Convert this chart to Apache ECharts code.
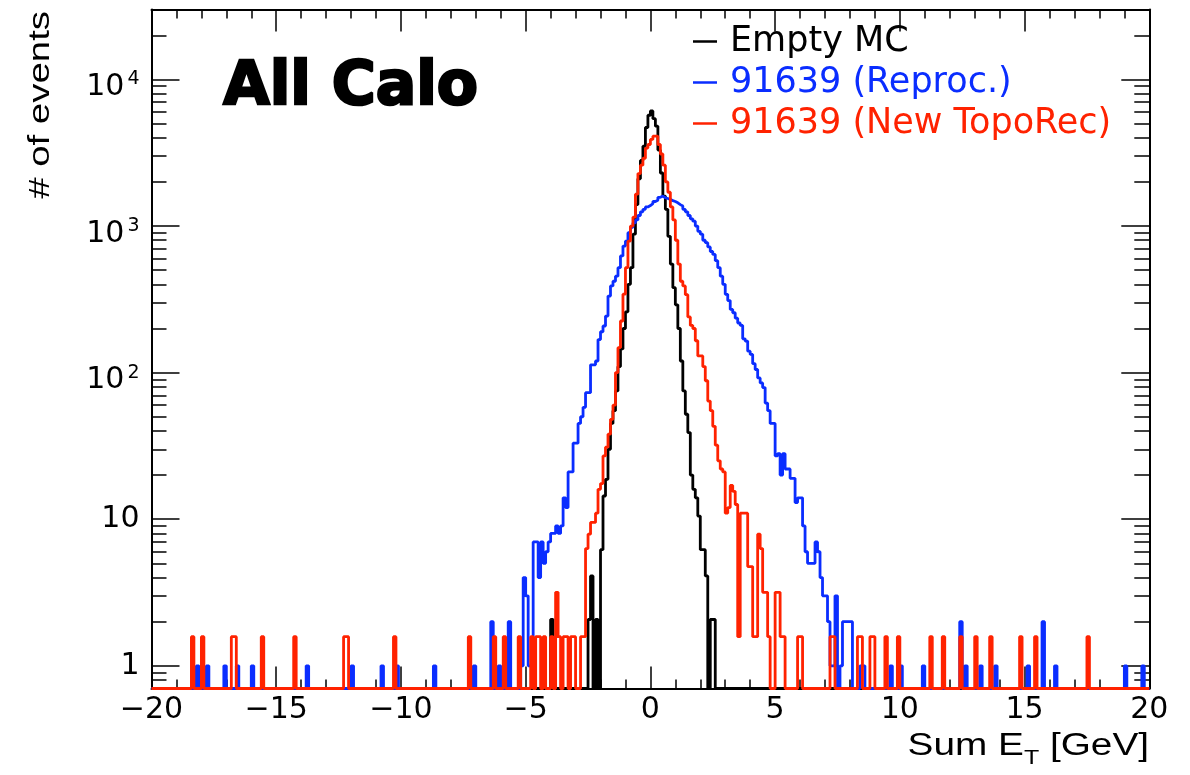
<!DOCTYPE html>
<html>
<head>
<meta charset="utf-8">
<script src="https://cdn.jsdelivr.net/npm/echarts@6/dist/echarts.min.js"></script>
<style>
html, body { margin: 0; padding: 0; background: #ffffff; }
#chartbox { width: 1190px; height: 775px; }
</style>
</head>
<body>
<div id="chartbox"></div>
<script>
// histogram binning: 400 bins of 0.1 GeV from -20 to 20
const binLow = -20;
const binWidth = 0.1;
const binCount = 400;

const names = ["Empty MC", "91639 (Reproc.)", "91639 (New TopoRec)"];
const colors = ["#000000", "#0a2dff", "#ff2200"];

// Empty MC (bin index -> content)
const blackCoreStart = 175;
const blackCore = [2.07, 4.1, 0, 2.07, 0, 6.2, 14.4, 18.7, 30, 45,
    55, 75, 110, 145, 200, 260, 400, 520, 880, 1400,
    2100, 2800, 3500, 4700, 5700, 6100, 5400, 4800, 3300, 2300,
    1600, 1300, 850, 550, 380, 290, 200, 120, 75, 52,
    39, 20, 16, 14, 10.5, 6.2, 6.2, 4.1, 0, 2.07, 2.07];
const blackTailBins = [160];
const blackTailCounts = [2.07];

// 91639 (Reproc.)
const blueCoreStart = 148;
const blueCore = [1, 4, 3, 1, 1, 7, 7, 4, 7, 5,
    6, 7, 8, 8, 9, 8, 9, 14, 12, 21,
    21, 33, 33, 45, 50, 58, 73, 73, 113, 113,
    120, 168, 190, 208, 243, 333, 390, 420, 455, 520,
    625, 730, 790, 900, 980, 1050, 1100, 1180, 1250, 1300,
    1350, 1380, 1420, 1470, 1500, 1570, 1600, 1560, 1540, 1520,
    1490, 1470, 1440, 1400, 1370, 1300, 1250, 1180, 1120, 1080,
    1000, 920, 880, 800, 770, 720, 670, 640, 580, 520,
    455, 400, 342, 310, 270, 256, 235, 218, 210, 170,
    164, 140, 133, 115, 105, 92, 85, 79, 62, 55,
    45, 45, 27, 28, 20, 28, 22, 22, 19, 19,
    13, 14, 14, 9, 6, 5, 5, 5, 7, 6,
    4, 3, 3, 2, 1, 1, 3, 0, 1, 2,
    2, 2, 2, 0, 0, 0, 1, 1];
const blueTailBins = [18, 22, 29, 34, 40, 62, 80, 92, 98, 113, 129, 136, 139, 143,
    296, 300, 309, 324, 326, 332, 338, 351, 357, 362, 390, 397];
const blueTailCounts = [1, 1, 1, 1, 1, 1, 1, 1, 1, 1, 1, 2, 1, 2,
    1, 1, 1, 2, 1, 1, 1, 1, 2, 1, 1, 1];

// 91639 (New TopoRec)
const redCoreStart = 152;
const redCore = [1.58, 0, 1.58, 1.58, 0, 1.58, 0, 0, 1.58, 0,
    3.17, 1.58, 0, 1.58, 1.58, 0, 1.58, 1.58, 0, 0,
    1.58, 1.58, 6.3, 7.9, 9.5, 9.5, 11, 16, 17.5, 27,
    31, 38, 48, 60, 100, 148, 225, 343, 520, 790,
    1000, 1150, 1650, 2280, 2600, 2900, 3400, 3600, 3900, 4100,
    4100, 3600, 3100, 2600, 2000, 1700, 1350, 1100, 800, 550,
    420, 390, 340, 240, 210, 200, 165, 130, 130, 110,
    88, 64, 55, 43, 32, 25, 22, 21, 11, 12,
    17, 15.5, 12.6, 1.58, 11, 11, 11, 4.75, 4.75, 1.58,
    1.58, 7.9, 6.3, 3.17, 3.17, 1.58, 0, 0, 3.17, 3.17,
    1.58, 1.58, 0, 0, 0, 0, 0, 1.58, 1.58];
const redTailBins = [16, 20, 32, 33, 44, 57, 77, 78, 97, 127, 137, 141, 147,
    272, 273, 283, 284, 288, 289, 294, 299, 312, 317, 324, 330, 336, 348, 354, 375];
const redTailCounts = [1.58, 1.58, 1.58, 1.58, 1.58, 1.58, 1.58, 1.58, 1.58, 1.58, 1.58, 1.58, 1.58,
    1.58, 1.58, 1.58, 1.58, 1.58, 1.58, 1.58, 1.58, 1.58, 1.58, 1.58, 1.58, 1.58, 1.58, 1.58, 1.58];

// axes
const xTicks = [-20, -15, -10, -5, 0, 5, 10, 15, 20];
const yMin = 0.7;
const yMax = 30000;
const yMajor = [1, 10, 100, 1000, 10000];
const yMinor = [0.8, 0.9, 2, 3, 4, 5, 6, 7, 8, 9, 20, 30, 40, 50, 60, 70, 80, 90,
    200, 300, 400, 500, 600, 700, 800, 900, 2000, 3000, 4000, 5000, 6000, 7000, 8000, 9000, 20000];

const helv = '"Liberation Sans", Arial, Helvetica, sans-serif';
const wide = '"DejaVu Sans", sans-serif';
const logMin = Math.log10(yMin);
const logMax = Math.log10(yMax);

function fillBins(start, core, tailBins, tailCounts) {
    let counts = new Array(binCount).fill(0);
    core.forEach((c, i) => { counts[start + i] = c; });
    tailBins.forEach((b, i) => { counts[b] = tailCounts[i]; });
    return counts;
}

// step points at the low edge of each bin, empty bins sit on the frame
function toSteps(counts) {
    let pts = counts.map((c, i) => [+(binLow + i * binWidth).toFixed(2), c > 0 ? Math.log10(c) : logMin]);
    pts.push([binLow + binCount * binWidth, pts[pts.length - 1][1]]);
    return pts;
}

const histos = [
    fillBins(blackCoreStart, blackCore, blackTailBins, blackTailCounts),
    fillBins(blueCoreStart, blueCore, blueTailBins, blueTailCounts),
    fillBins(redCoreStart, redCore, redTailBins, redTailCounts)
];

const frameLine = { show: true, onZero: false, lineStyle: { color: "#000", width: 2 } };
const tickLine = { color: "#000", width: 1.5 };

function xAxisDef(position, withLabels) {
    return {
        type: "value",
        position: position,
        min: xTicks[0],
        max: xTicks[xTicks.length - 1],
        interval: 5,
        axisLine: frameLine,
        axisTick: { show: true, inside: true, length: 22, lineStyle: tickLine },
        minorTick: { show: true, splitNumber: 5, length: 9, lineStyle: tickLine },
        splitLine: { show: false },
        minorSplitLine: { show: false },
        axisLabel: withLabels ? {
            show: true,
            margin: 7,
            fontSize: 30,
            fontFamily: wide,
            color: "#000",
            formatter: (v) => (v < 0 ? "\u2212" + Math.abs(v) : String(v))
        } : { show: false }
    };
}

function yAxisDef(position, values, len, withLabels, withLine) {
    return {
        type: "value",
        position: position,
        min: logMin,
        max: logMax,
        axisLine: withLine ? frameLine : { show: false, onZero: false },
        axisTick: { show: true, inside: true, length: len, customValues: values.map(Math.log10), lineStyle: tickLine },
        splitLine: { show: false },
        axisLabel: withLabels ? {
            show: true,
            margin: 12,
            customValues: yMajor.map(Math.log10),
            formatter: (v) => {
                let p = Math.round(v);
                if (p === 0) return "{b|1}";
                if (p === 1) return "{b|10}";
                return "{b|10}{s|" + p + "}";
            },
            rich: {
                b: { fontSize: 30, fontFamily: wide, color: "#000", lineHeight: 30, verticalAlign: "bottom" },
                s: { fontSize: 19, fontFamily: wide, color: "#000", lineHeight: 46, verticalAlign: "middle", padding: [0, 0, 0, 3] }
            }
        } : { show: false }
    };
}

let myChart = echarts.init(document.getElementById("chartbox"));
let option = {
    animation: false,
    backgroundColor: "#ffffff",
    grid: { left: 151.5, top: 9.5, width: 997.8, height: 679, outerBoundsMode: "none" },
    legend: {
        orient: "vertical",
        left: 693,
        top: 24,
        padding: 0,
        itemGap: 6,
        itemWidth: 24,
        itemHeight: 2.5,
        icon: "rect",
        selectedMode: false,
        textStyle: { fontSize: 35, fontFamily: wide, padding: [0, 0, 0, 8] },
        data: names.map((n, i) => ({ name: n, textStyle: { color: colors[i] } }))
    },
    xAxis: [xAxisDef("bottom", true), xAxisDef("top", false)],
    yAxis: [
        yAxisDef("left", yMajor, 28, true, true),
        yAxisDef("left", yMinor, 15, false, false),
        yAxisDef("right", yMajor, 28, false, true),
        yAxisDef("right", yMinor, 15, false, false)
    ],
    graphic: [
        {
            type: "text",
            left: 222,
            top: 57,
            style: { text: "All Calo", font: 'bold 60px "DejaVu Sans"', fill: "#000", stroke: "#000", lineWidth: 2.5 }
        },
        {
            type: "text",
            x: 41,
            y: 11,
            rotation: Math.PI / 2,
            scaleX: 1.28,
            style: { text: "# of events", font: "30px " + helv, fill: "#000", align: "right", verticalAlign: "middle" }
        },
        {
            type: "text",
            right: 41,
            top: 731,
            scaleX: 1.25,
            style: {
                text: "{a|Sum E}{s|T}{a| [GeV]}",
                rich: {
                    a: { fontSize: 31, fontFamily: helv, fill: "#000", lineHeight: 31, verticalAlign: "top" },
                    s: { fontSize: 20, fontFamily: helv, fill: "#000", lineHeight: 37, verticalAlign: "bottom" }
                }
            }
        }
    ],
    series: histos.map((counts, i) => ({
        name: names[i],
        type: "line",
        step: "end",
        xAxisIndex: 0,
        yAxisIndex: 0,
        showSymbol: false,
        symbol: "none",
        clip: false,
        color: colors[i],
        lineStyle: { color: colors[i], width: 2.8 },
        emphasis: { disabled: true },
        data: toSteps(counts)
    }))
};
option && myChart.setOption(option);
</script>
</body>
</html>
